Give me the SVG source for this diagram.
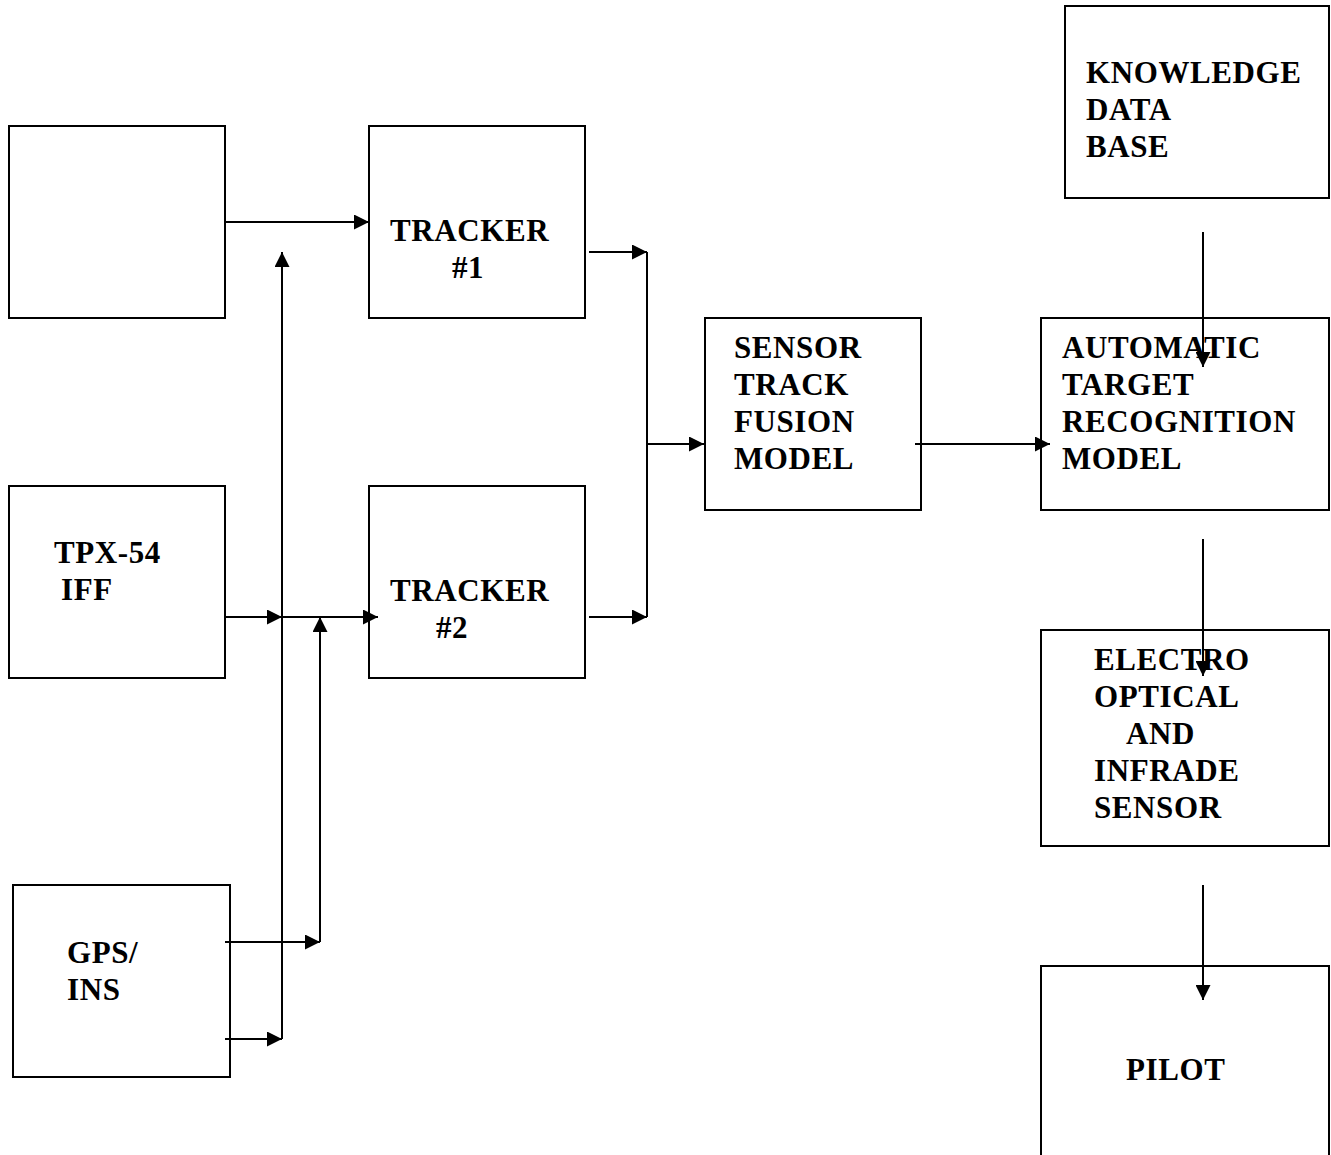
<svg xmlns="http://www.w3.org/2000/svg" width="1331" height="1155" viewBox="0 0 1331 1155">
<style>
.box{fill:#fff;stroke:#000;stroke-width:2}
.t{font-family:"Liberation Serif","Times New Roman",serif;font-weight:bold;font-size:31px;letter-spacing:0.6px;fill:#000}
.c{fill:none;stroke:#000;stroke-width:2}
</style>
<defs>
<marker id="ah" markerUnits="userSpaceOnUse" markerWidth="15" markerHeight="15" refX="15" refY="7.5" orient="auto">
<path d="M0,0 L15,7.5 L0,15 z" fill="#000"/>
</marker>
</defs>
<rect width="1331" height="1155" fill="#fff"/>
<g id="radar"><rect class="box" x="9" y="126" width="216" height="192"/></g>
<g id="tpx"><rect class="box" x="9" y="486" width="216" height="192"/><text class="t" x="54" y="563">TPX-54</text><text class="t" x="61" y="600">IFF</text></g>
<g id="gps"><rect class="box" x="13" y="885" width="217" height="192"/><text class="t" x="67" y="963">GPS/</text><text class="t" x="67" y="1000">INS</text></g>
<g id="tracker1"><rect class="box" x="369" y="126" width="216" height="192"/><text class="t" x="390" y="241">TRACKER</text><text class="t" x="452" y="278">#1</text></g>
<g id="tracker2"><rect class="box" x="369" y="486" width="216" height="192"/><text class="t" x="390" y="601">TRACKER</text><text class="t" x="436" y="638">#2</text></g>
<g id="fusion"><rect class="box" x="705" y="318" width="216" height="192"/><text class="t" x="734" y="358">SENSOR</text><text class="t" x="734" y="395">TRACK</text><text class="t" x="734" y="432">FUSION</text><text class="t" x="734" y="469">MODEL</text></g>
<g id="atr"><rect class="box" x="1041" y="318" width="288" height="192"/><text class="t" x="1062" y="358">AUTOMATIC</text><text class="t" x="1062" y="395">TARGET</text><text class="t" x="1062" y="432">RECOGNITION</text><text class="t" x="1062" y="469">MODEL</text></g>
<g id="knowledge"><rect class="box" x="1065" y="6" width="264" height="192"/><text class="t" x="1086" y="83">KNOWLEDGE</text><text class="t" x="1086" y="120">DATA</text><text class="t" x="1086" y="157">BASE</text></g>
<g id="eo"><rect class="box" x="1041" y="630" width="288" height="216"/><text class="t" x="1094" y="670">ELECTRO</text><text class="t" x="1094" y="707">OPTICAL</text><text class="t" x="1126" y="744">AND</text><text class="t" x="1094" y="781">INFRADE</text><text class="t" x="1094" y="818">SENSOR</text></g>
<g id="pilot"><path class="box" d="M1041,1160 V966 H1329 V1160"/><text class="t" x="1126" y="1080">PILOT</text></g>
<g id="connectors">
<path class="c" d="M225,222 H369" marker-end="url(#ah)"/>
<path class="c" d="M282,1039 V252" marker-end="url(#ah)"/>
<path class="c" d="M225,1039 H282" marker-end="url(#ah)"/>
<path class="c" d="M225,942 H320" marker-end="url(#ah)"/>
<path class="c" d="M320,942 V617" marker-end="url(#ah)"/>
<path class="c" d="M225,617 H282" marker-end="url(#ah)"/>
<path class="c" d="M282,617 H378" marker-end="url(#ah)"/>
<path class="c" d="M589,252 H647" marker-end="url(#ah)"/>
<path class="c" d="M589,617 H647" marker-end="url(#ah)"/>
<path class="c" d="M647,252 V617"/>
<path class="c" d="M647,444 H704" marker-end="url(#ah)"/>
<path class="c" d="M915,444 H1050" marker-end="url(#ah)"/>
<path class="c" d="M1203,232 V367" marker-end="url(#ah)"/>
<path class="c" d="M1203,539 V676" marker-end="url(#ah)"/>
<path class="c" d="M1203,885 V1000" marker-end="url(#ah)"/>
</g>
</svg>
